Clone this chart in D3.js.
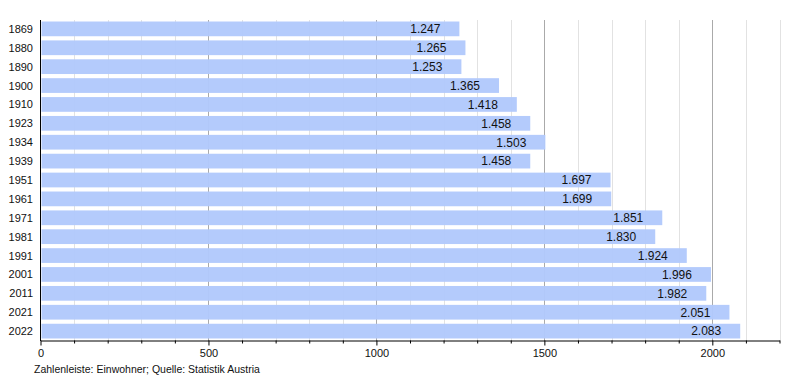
<!DOCTYPE html>
<html><head><meta charset="utf-8">
<script src="https://cdn.jsdelivr.net/npm/d3@7"></script>
<style>body{margin:0;background:#fff}svg{display:block;font-family:"Liberation Sans",Arial,sans-serif}</style>
</head><body><svg id="c" width="800" height="380"></svg>
<script>
const years = ["1869","1880","1890","1900","1910","1923","1934","1939","1951","1961","1971","1981","1991","2001","2011","2021","2022"];
const population = [1247,1265,1253,1365,1418,1458,1503,1458,1697,1699,1851,1830,1924,1996,1982,2051,2083];
const majorTicks = [0,500,1000,1500,2000];
const footer = "Zahlenleiste: Einwohner; Quelle: Statistik Austria";

const svg = d3.select("#c");
const x = d3.scaleLinear().domain([0,2200]).range([40.5,779.5]);
const y = d3.scaleBand().domain(years).range([20,340]).paddingInner(0.22).paddingOuter(0.08);
const fmt = v => d3.format(",")(v).replace(",", ".");

// gridlines behind bars
const minor = d3.range(100, 2201, 100).filter(v => v % 500 !== 0);
svg.append("g").selectAll("line").data(minor).join("line")
  .attr("x1", d => Math.round(x(d))+0.5).attr("x2", d => Math.round(x(d))+0.5)
  .attr("y1", 20).attr("y2", 341)
  .attr("stroke", "#e2e2e2");
svg.append("g").selectAll("line").data(majorTicks.slice(1)).join("line")
  .attr("x1", d => Math.round(x(d))+0.5).attr("x2", d => Math.round(x(d))+0.5)
  .attr("y1", 20).attr("y2", 341)
  .attr("stroke", "#aaaaaa");

// bars
svg.append("g").selectAll("rect").data(years).join("rect")
  .attr("x", x(0)+1).attr("y", d => y(d))
  .attr("width", (d,i) => x(population[i]) - x(0) - 1)
  .attr("height", y.bandwidth())
  .attr("fill", "#b2c9fc").attr("fill-opacity", 0.97);

// value labels
svg.append("g").selectAll("text").data(years).join("text")
  .attr("x", (d,i) => x(population[i]) - 19)
  .attr("y", d => y(d) + y.bandwidth()/2)
  .attr("dy", "0.36em").attr("text-anchor", "end")
  .attr("font-size", 12).attr("fill", "#111")
  .text((d,i) => fmt(population[i]));

// y labels
svg.append("g").selectAll("text").data(years).join("text")
  .attr("x", 33).attr("y", d => y(d) + y.bandwidth()/2)
  .attr("dy", "0.36em").attr("text-anchor", "end")
  .attr("font-size", 11).attr("fill", "#111").text(d => d);

// left axis line
svg.append("line").attr("x1", 40.5).attr("x2", 40.5).attr("y1", 20).attr("y2", 341).attr("stroke", "#000");

// bottom axis
const xAxis = d3.axisBottom(x).tickValues(d3.range(0, 2201, 100))
  .tickFormat(d => majorTicks.includes(d) ? d : "").tickSize(4).tickSizeOuter(0);
const ax = svg.append("g").attr("transform", "translate(0,340.5)").call(xAxis);
ax.select(".domain").attr("stroke", "#000");
ax.selectAll(".tick line").attr("stroke", "#000").attr("y2", d => majorTicks.includes(d) ? 5 : 3);
ax.selectAll(".tick text").attr("font-size", 11).attr("fill", "#111")
  .attr("font-family", "Liberation Sans, Arial, sans-serif").attr("y", 9);

svg.append("text").attr("x", 34).attr("y", 373).attr("font-size", 10.5).attr("fill", "#111").text(footer);
</script></body></html>
